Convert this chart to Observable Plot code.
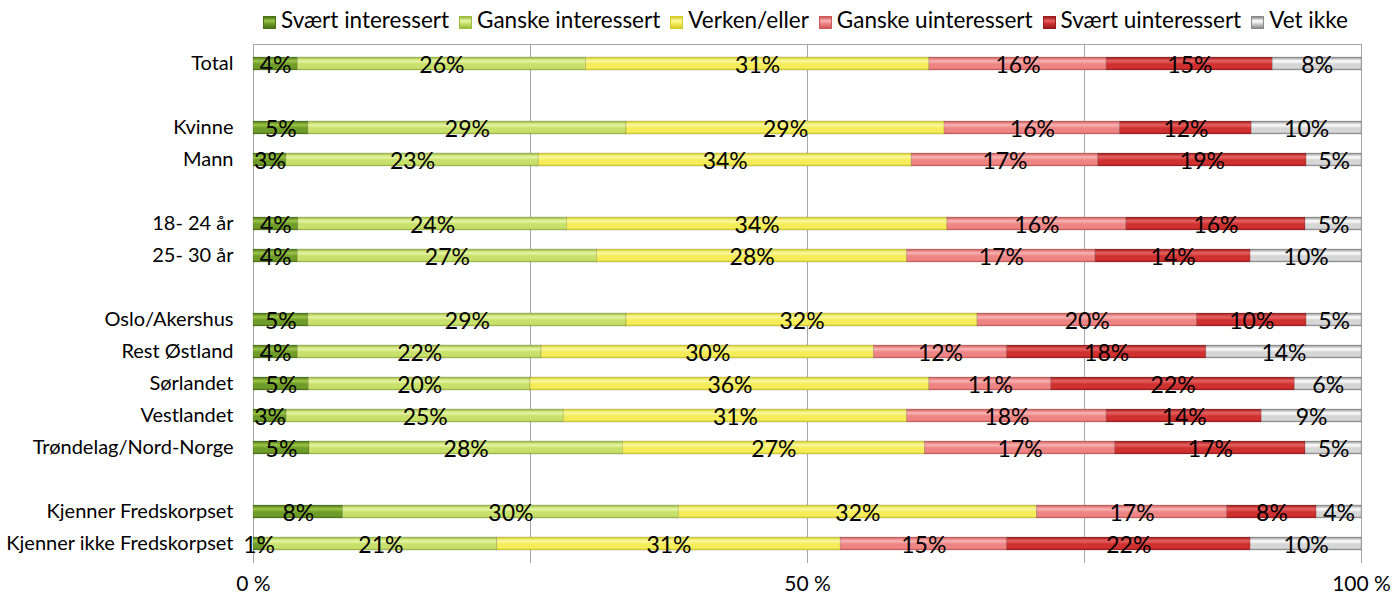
<!DOCTYPE html>
<html>
<head>
<meta charset="utf-8">
<script src="https://cdn.jsdelivr.net/npm/d3@7"></script>
<script src="https://cdn.jsdelivr.net/npm/@observablehq/plot@0.6"></script>
<style>
  body { margin: 0; background: #fff; font-family: Lato, "Open Sans", sans-serif; }
  #legend { height: 38px; box-sizing: border-box; padding: 6px 0 0 263px; text-align: left; font-size: 22.5px; line-height: 27px; color: #000; white-space: nowrap; }
  #legend span.item { display: inline-block; margin-right: 10px; }
  #legend span.sw { display: inline-block; width: 13px; height: 13px; margin-right: 5px; vertical-align: -1px; box-sizing: border-box; }
</style>
</head>
<body>
<div id="legend"></div>
<div id="chart"></div>
<script>
// ---- data ----
const groups = ["Total", "Kvinne", "Mann", "18- 24 år", "25- 30 år", "Oslo/Akershus", "Rest Østland", "Sørlandet", "Vestlandet", "Trøndelag/Nord-Norge", "Kjenner Fredskorpset", "Kjenner ikke Fredskorpset"];
const rowOrder = ["Total", "_g1", "Kvinne", "Mann", "_g2", "18- 24 år", "25- 30 år", "_g3", "Oslo/Akershus", "Rest Østland", "Sørlandet", "Vestlandet", "Trøndelag/Nord-Norge", "_g4", "Kjenner Fredskorpset", "Kjenner ikke Fredskorpset"];
const categories = ["Svært interessert", "Ganske interessert", "Verken/eller", "Ganske uinteressert", "Svært uinteressert", "Vet ikke"];
const svaertInteressert = [4, 5, 3, 4, 4, 5, 4, 5, 3, 5, 8, 1];
const ganskeInteressert = [26, 29, 23, 24, 27, 29, 22, 20, 25, 28, 30, 21];
const verkenEller = [31, 29, 34, 34, 28, 32, 30, 36, 31, 27, 32, 31];
const ganskeUinteressert = [16, 16, 17, 16, 17, 20, 12, 11, 18, 17, 17, 15];
const svaertUinteressert = [15, 12, 19, 16, 14, 10, 18, 22, 14, 17, 8, 22];
const vetIkke = [8, 10, 5, 5, 10, 5, 14, 6, 9, 5, 4, 10];
const xTickLabels = [0, 0.5, 1];
const xGridTicks = [0, 0.25, 0.5, 0.75, 1];

const series = [svaertInteressert, ganskeInteressert, verkenEller, ganskeUinteressert, svaertUinteressert, vetIkke];
const data = [];
categories.forEach((cat, ci) => {
  groups.forEach((g, gi) => data.push({group: g, cat, value: series[ci][gi]}));
});

// gradient styles: [edge dark, highlight, mid]
const grad = [
  ["#4a7215", "#9cc648", "#6f9c28"],
  ["#9cbc3e", "#e9f6a6", "#c8e06c"],
  ["#d6cc28", "#fdf9a0", "#f4ec58"],
  ["#cf5656", "#f9b4b4", "#ee8585"],
  ["#9a1a1a", "#e86262", "#cf3030"],
  ["#8a8a8a", "#ffffff", "#d6d6d6"]
];
const fills = grad.map((_, i) => `url(#grad${i})`);

// legend
const legend = document.getElementById("legend");
categories.forEach((c, i) => {
  const it = document.createElement("span");
  it.className = "item";
  const sw = document.createElement("span");
  sw.className = "sw";
  const [d, l, m] = grad[i];
  sw.style.background = `linear-gradient(to bottom, ${d} 0%, ${l} 35%, ${m} 60%, ${d} 100%)`;
  sw.style.border = `1px solid ${d}`;
  it.appendChild(sw);
  it.appendChild(document.createTextNode(c));
  legend.appendChild(it);
});

const pct = d => `${d}%`;
const stackOpts = {x: "value", y: "group", z: "cat", offset: "normalize"};

const svg = Plot.plot({
  width: 1397,
  height: 567,
  marginLeft: 253,
  marginRight: 36,
  marginTop: 6,
  marginBottom: 42,
  style: {fontFamily: "Lato, 'Open Sans', sans-serif", background: "#fff", color: "#000"},
  x: {domain: [0, 1], axis: null, label: null},
  y: {domain: rowOrder, paddingInner: 0.6, paddingOuter: 0.36, axis: null, label: null},
  color: {domain: categories, range: fills},
  marks: [
    Plot.frame({anchor: "top", stroke: "#a6a6a6", strokeOpacity: 1}),
    Plot.gridX(xGridTicks, {stroke: "#a6a6a6", strokeOpacity: 1, strokeWidth: 1}),
    Plot.barX(data, Plot.stackX({...stackOpts, fill: "cat", stroke: "#00000033", strokeWidth: 0.7})),
    Plot.textX(data, Plot.stackX({...stackOpts, text: d => pct(d.value), fontSize: 23, fill: "#000", dy: 2})),
    Plot.axisX(xTickLabels, {tickSize: 0, tickPadding: 13, fontSize: 21, label: null, tickFormat: d => `${Math.round(d * 100)} %`}),
    Plot.axisY({tickSize: 0, tickPadding: 20, fontSize: 20, label: null, tickFormat: d => d.startsWith("_g") ? "" : d})
  ]
});

const defs = d3.select(svg).insert("defs", ":first-child");
grad.forEach(([d, l, m], i) => {
  const g = defs.append("linearGradient").attr("id", `grad${i}`).attr("x1", 0).attr("y1", 0).attr("x2", 0).attr("y2", 1);
  [[0, d], [0.3, l], [0.55, m], [0.85, m], [1, d]].forEach(([o, c]) => g.append("stop").attr("offset", o).attr("stop-color", c));
});

document.getElementById("chart").appendChild(svg);
</script>
</body>
</html>
